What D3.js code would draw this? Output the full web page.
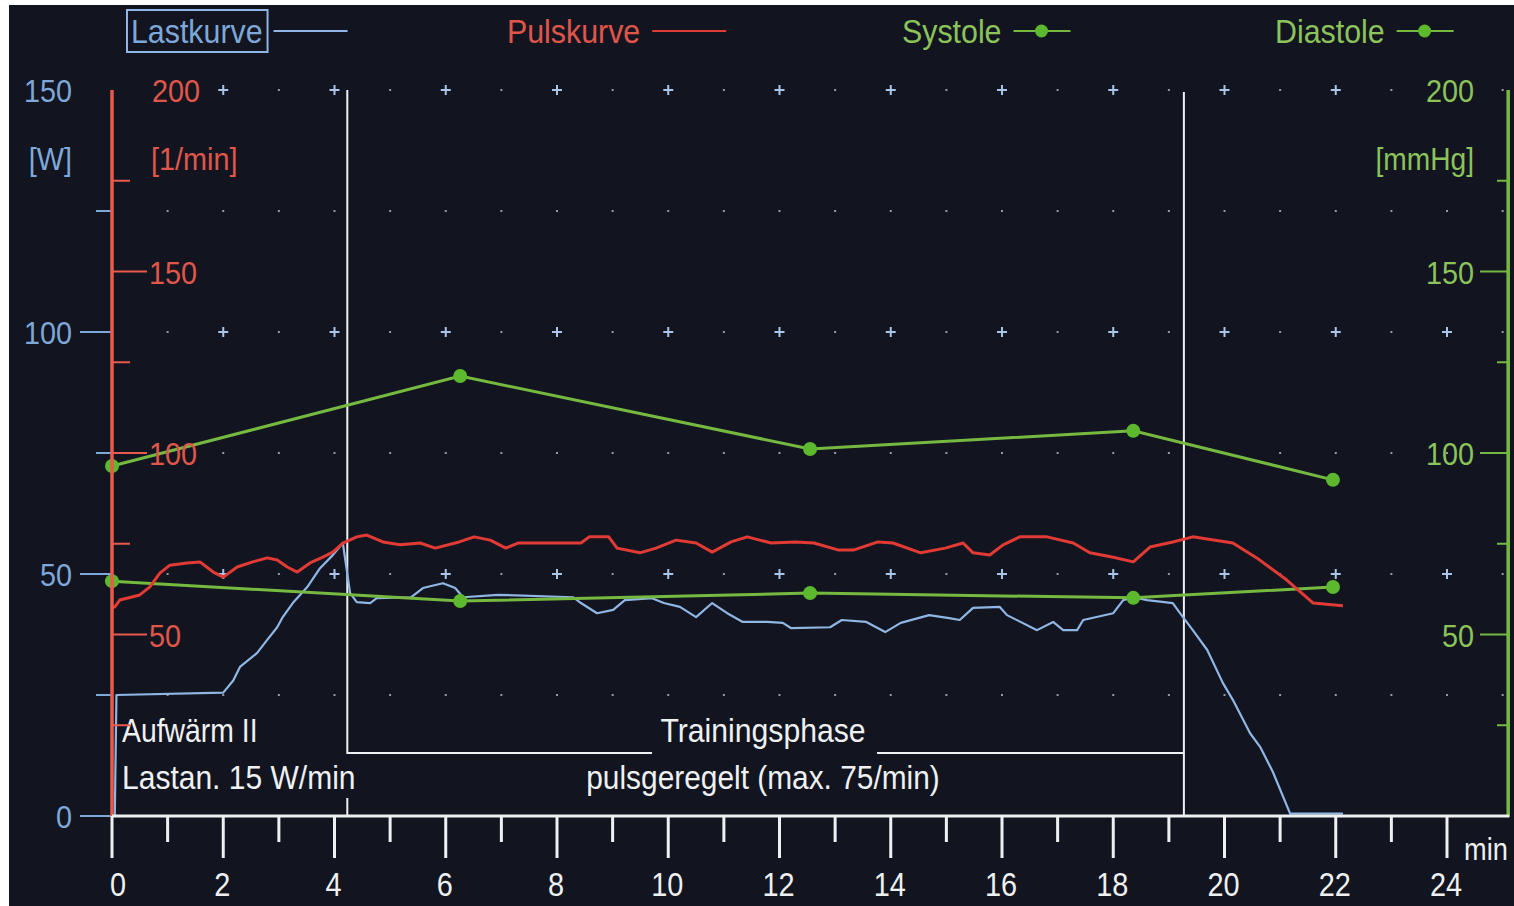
<!DOCTYPE html>
<html>
<head>
<meta charset="utf-8">
<script src="https://cdn.jsdelivr.net/npm/d3@7"></script>
<style>
  html, body { margin: 0; padding: 0; background: #ffffff; }
  svg { display: block; }
  text { font-family: "Liberation Sans", Arial, sans-serif; }
</style>
</head>
<body>
<svg id="chart" width="1514" height="906"></svg>
<script>
  // Lastkurve (t in min, W)
  var loadData = [
    [0, 0], [0.05, 0], [0.08, 25], [2.0, 25.5], [2.18, 28], [2.3, 30.8], [2.61, 33.7], [2.79, 36.4],
    [2.97, 39], [3.07, 41.1], [3.25, 44], [3.51, 47.3], [3.74, 51.2], [3.97, 53.9], [4.15, 56.4],
    [4.28, 46.1], [4.4, 44.2], [4.64, 44], [4.76, 45], [5.38, 45.2], [5.59, 47.1], [5.95, 48.1],
    [6.17, 47.1], [6.31, 45.2], [6.94, 45.7], [8.29, 45.2], [8.43, 44], [8.72, 41.9], [9.01, 42.6],
    [9.22, 44.6], [9.71, 45], [9.92, 44], [10.21, 43.2], [10.5, 41.1], [10.79, 44], [11.06, 41.9],
    [11.34, 40.1], [11.78, 40.1], [12.06, 39.9], [12.21, 38.8], [12.91, 39], [13.12, 40.5],
    [13.56, 40.1], [13.9, 38], [14.18, 39.9], [14.69, 41.5], [15.05, 40.9], [15.24, 40.5],
    [15.48, 43], [15.96, 43.2], [16.09, 41.5], [16.63, 38.4], [16.92, 40.1], [17.1, 38.4],
    [17.35, 38.4], [17.46, 40.5], [18.0, 41.9], [18.18, 44.6], [18.36, 45.2], [18.61, 44.6],
    [19.07, 44], [19.2, 41.9], [19.43, 38.4], [19.69, 34.3], [19.97, 27.5], [20.15, 24],
    [20.46, 17.1], [20.64, 14.3], [20.87, 9.1], [21.18, 0.5], [22.13, 0.5]
  ];

  // Pulskurve (t in min, 1/min)
  var pulseData = [
    [0.0, 57.5], [0.05, 57.6], [0.14, 59.5], [0.5, 60.9], [0.68, 63.1], [0.86, 66.9], [1.04, 69.1],
    [1.35, 69.7], [1.58, 70], [1.82, 67.2], [2.0, 65.8], [2.25, 68.6], [2.53, 70], [2.79, 71.1],
    [2.97, 70.5], [3.15, 68.6], [3.33, 67.2], [3.56, 69.7], [3.79, 71.3], [3.97, 72.7], [4.15, 75.2],
    [4.4, 76.9], [4.58, 77.4], [4.87, 75.5], [5.18, 74.7], [5.54, 75.2], [5.81, 73.8], [6.24, 75.5],
    [6.51, 76.9], [6.8, 76], [7.08, 73.8], [7.3, 75.2], [8.43, 75.2], [8.58, 76.9], [8.93, 76.9],
    [9.08, 73.8], [9.49, 72.5], [9.78, 73.8], [10.14, 76], [10.5, 75.2], [10.79, 72.7], [11.13, 75.5],
    [11.42, 76.9], [11.85, 75.2], [12.28, 75.5], [12.62, 75.2], [13.05, 73.3], [13.34, 73.3],
    [13.77, 75.5], [14.04, 75.2], [14.54, 72.5], [14.98, 73.8], [15.3, 75.2], [15.48, 72.5],
    [15.78, 71.9], [16.02, 74.7], [16.32, 76.9], [16.81, 76.9], [17.28, 75.2], [17.58, 72.5],
    [18.0, 71.3], [18.36, 70], [18.66, 74.1], [19.07, 75.5], [19.43, 76.9], [20.15, 75.2],
    [20.58, 71.1], [21.12, 65], [21.59, 58.7], [22.13, 57.9]
  ];

  // Blutdruck (t in min, mmHg)
  var systoleData = [[0, 96.4], [6.26, 121.2], [12.55, 101.1], [18.36, 106.1], [21.95, 92.6]];
  var diastoleData = [[0, 64.7], [6.26, 59.2], [12.55, 61.4], [18.36, 60.1], [21.95, 63.1]];

  var xTicks = d3.range(0, 25, 1);
  var xTickLabels = d3.range(0, 25, 2);
  var loadTicks = [0, 50, 100, 150];
  var loadMinorTicks = [25, 75, 125];
  var pulseTicks = [50, 100, 150, 200];
  var pulseMinorTicks = [25, 75, 125, 175];
  var gridRows = [25, 50, 75, 100, 125, 150];
  var phaseBounds = [4.23, 19.27];

  var legendItems = [
    { label: "Lastkurve", key: "load", x: 131 },
    { label: "Pulskurve", key: "pulse", x: 507 },
    { label: "Systole", key: "bp", x: 902 },
    { label: "Diastole", key: "bp", x: 1275 }
  ];

  var col = {
    bg: "#12151f",
    load: "#8fb6e4",
    loadText: "#7ea8d9",
    pulse: "#e23a34",
    pulseText: "#e0564b",
    pulseAxis: "#e85a4c",
    bp: "#76b940",
    bpText: "#8cc35a",
    bpDot: "#5cb82c",
    white: "#eef0f2",
    cross: "#a9c6ea",
    dot: "#b4bccb"
  };

  var NARROW = 0.9;

  var svg = d3.select("#chart");

  // schmale Schrift: horizontal gestauchter Text
  function addText(g, tx, ty, str, size, fill, anchor, sx) {
    return g.append("text")
      .attr("transform", "translate(" + tx + "," + ty + ") scale(" + (sx || NARROW) + ",1)")
      .attr("text-anchor", anchor || "start")
      .attr("font-size", size)
      .attr("fill", fill)
      .text(str);
  }

  // schwarzer Bildschirm mit weissem Rand oben/links
  svg.append("rect").attr("x", 9).attr("y", 5).attr("width", 1505).attr("height", 901).attr("fill", col.bg);

  var x = d3.scaleLinear().domain([0, 24]).range([112, 1447]);
  var yLoad = d3.scaleLinear().domain([0, 150]).range([816, 90]);
  var yPulse = d3.scaleLinear().domain([0, 200]).range([816, 90]);
  var yBp = yPulse;
  var xRight = x(25.1);

  // Rasterpunkte und Kreuze
  var grid = svg.append("g");
  gridRows.forEach(function (r) {
    d3.range(1, 26).forEach(function (m) {
      if (r === 150 && (m === 1 || m === 24)) return;
      var cx = x(m), cy = yLoad(r);
      var isCross = (r % 50 === 0) && (m % 2 === 0) && m < 25;
      if (isCross) {
        grid.append("path")
          .attr("d", "M" + (cx - 5) + "," + cy + "H" + (cx + 5) + "M" + cx + "," + (cy - 5) + "V" + (cy + 5))
          .attr("stroke", col.cross).attr("stroke-width", 2);
      } else {
        grid.append("rect").attr("x", cx - 1).attr("y", cy - 1).attr("width", 2).attr("height", 2)
          .attr("fill", col.dot).attr("opacity", 0.8);
      }
    });
  });

  // Phasen-Markierungen
  var xa = x(phaseBounds[0]), xb = x(phaseBounds[1]);
  var phase = svg.append("g").attr("stroke", col.white).attr("stroke-width", 2).attr("fill", "none");
  phase.append("path").attr("d", "M" + xa + "," + yLoad(150) + "V753H652");
  phase.append("path").attr("d", "M877,753H" + xb);
  phase.append("path").attr("d", "M" + xb + ",92V816");
  phase.append("path").attr("d", "M" + xa + ",798V816");

  var anno = svg.append("g");
  addText(anno, 122, 742, "Aufwärm II", 33, col.white, "start", 0.86);
  addText(anno, 122, 789, "Lastan. 15 W/min", 33, col.white, "start", 0.91);
  addText(anno, 763, 742, "Trainingsphase", 33, col.white, "middle", 0.915);
  addText(anno, 763, 789, "pulsgeregelt (max. 75/min)", 33, col.white, "middle", 0.905);

  // Kurven
  var line = function (ys) {
    return d3.line().x(function (d) { return x(d[0]); }).y(function (d) { return ys(d[1]); });
  };

  svg.append("path").datum(loadData)
    .attr("d", line(yLoad)).attr("fill", "none")
    .attr("stroke", col.load).attr("stroke-width", 2.2).attr("stroke-linejoin", "round");

  [systoleData, diastoleData].forEach(function (s) {
    svg.append("path").datum(s)
      .attr("d", line(yBp)).attr("fill", "none")
      .attr("stroke", col.bp).attr("stroke-width", 3);
    svg.append("g").selectAll("circle").data(s).join("circle")
      .attr("cx", function (d) { return x(d[0]); })
      .attr("cy", function (d) { return yBp(d[1]); })
      .attr("r", 7).attr("fill", col.bpDot);
  });

  svg.append("path").datum(pulseData)
    .attr("d", line(yPulse)).attr("fill", "none")
    .attr("stroke", col.pulse).attr("stroke-width", 3).attr("stroke-linejoin", "round");

  // linke Achse Last [W]
  var gl = svg.append("g");
  loadTicks.forEach(function (v) {
    if (v < 150) {
      gl.append("line").attr("x1", 80).attr("x2", 111).attr("y1", yLoad(v)).attr("y2", yLoad(v))
        .attr("stroke", col.loadText).attr("stroke-width", 2);
    }
    addText(gl, 72, yLoad(v) + 12, v, 32, col.loadText, "end");
  });
  loadMinorTicks.forEach(function (v) {
    gl.append("line").attr("x1", 96).attr("x2", 111).attr("y1", yLoad(v)).attr("y2", yLoad(v))
      .attr("stroke", col.loadText).attr("stroke-width", 2);
  });
  addText(gl, 72, 170, "[W]", 32, col.loadText, "end");

  // Pulsachse [1/min]
  var gp = svg.append("g");
  gp.append("line").attr("x1", 112).attr("x2", 112).attr("y1", yPulse(200)).attr("y2", 817)
    .attr("stroke", col.pulseAxis).attr("stroke-width", 3.5);
  pulseTicks.forEach(function (v) {
    if (v < 200) {
      gp.append("line").attr("x1", 113).attr("x2", 147).attr("y1", yPulse(v)).attr("y2", yPulse(v))
        .attr("stroke", col.pulseAxis).attr("stroke-width", 2);
    }
    addText(gp, v < 200 ? 149 : 152, yPulse(v) + 12, v, 32, col.pulseText, "start");
  });
  pulseMinorTicks.forEach(function (v) {
    gp.append("line").attr("x1", 113).attr("x2", 130).attr("y1", yPulse(v)).attr("y2", yPulse(v))
      .attr("stroke", col.pulseAxis).attr("stroke-width", 2);
  });
  addText(gp, 151, 170, "[1/min]", 32, col.pulseText, "start");

  // rechte Achse [mmHg]
  var gr = svg.append("g");
  gr.append("line").attr("x1", xRight).attr("x2", xRight).attr("y1", yBp(200)).attr("y2", 817)
    .attr("stroke", col.bp).attr("stroke-width", 3.5);
  pulseTicks.forEach(function (v) {
    if (v < 200) {
      gr.append("line").attr("x1", 1480).attr("x2", xRight).attr("y1", yBp(v)).attr("y2", yBp(v))
        .attr("stroke", col.bp).attr("stroke-width", 2);
    }
    addText(gr, 1474, yBp(v) + 12, v, 32, col.bpText, "end");
  });
  pulseMinorTicks.forEach(function (v) {
    gr.append("line").attr("x1", 1497).attr("x2", xRight).attr("y1", yBp(v)).attr("y2", yBp(v))
      .attr("stroke", col.bp).attr("stroke-width", 2);
  });
  addText(gr, 1474, 170, "[mmHg]", 32, col.bpText, "end", 0.88);

  // Zeitachse
  var gx = svg.append("g").attr("stroke", col.white);
  gx.append("line").attr("x1", 112).attr("x2", xRight + 1).attr("y1", 816).attr("y2", 816).attr("stroke-width", 3);
  xTicks.forEach(function (m) {
    gx.append("line").attr("x1", x(m)).attr("x2", x(m)).attr("y1", 816)
      .attr("y2", m % 2 === 0 ? 858 : 842).attr("stroke-width", 3);
  });
  var gxl = svg.append("g");
  xTickLabels.forEach(function (m) {
    addText(gxl, x(m) + (m === 0 ? 6 : -1), 896, m, 34, col.white, "middle", 0.85);
  });
  addText(gxl, 1464, 860, "min", 32, col.white, "start", 0.85);

  // Legende
  var gleg = svg.append("g");
  legendItems.forEach(function (it) {
    var c = it.key === "load" ? col.loadText : it.key === "pulse" ? col.pulseText : col.bpText;
    var t = addText(gleg, it.x, 43, it.label, 33, c, "start", 0.92);
    var w = t.node().getComputedTextLength() * 0.92;
    var lx = it.x + w + 12;
    var len = 74;
    if (it.key === "load") {
      gleg.append("rect").attr("x", it.x - 4).attr("y", 10).attr("width", w + 9).attr("height", 42)
        .attr("fill", "none").attr("stroke", col.load).attr("stroke-width", 2);
      lx = it.x + w + 11;
    }
    if (it.key === "bp") len = 57;
    var lineCol = it.key === "load" ? col.load : it.key === "pulse" ? col.pulse : col.bp;
    gleg.append("line").attr("x1", lx).attr("x2", lx + len).attr("y1", 31).attr("y2", 31)
      .attr("stroke", lineCol).attr("stroke-width", 2);
    if (it.key === "bp") {
      gleg.append("circle").attr("cx", lx + 28).attr("cy", 31).attr("r", 6.5).attr("fill", col.bpDot);
    }
  });
</script>
</body>
</html>
